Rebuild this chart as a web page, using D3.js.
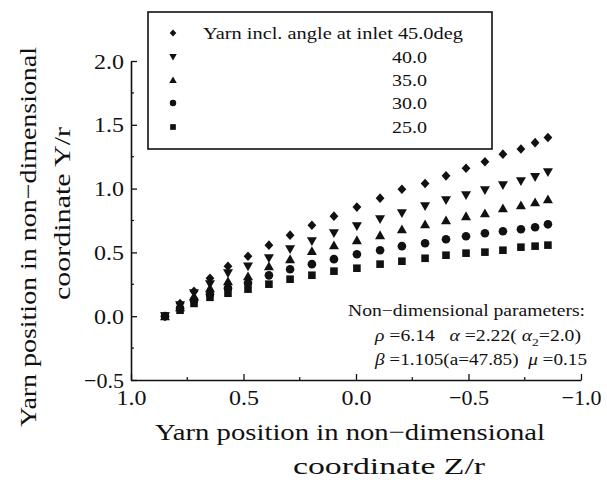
<!DOCTYPE html>
<html>
<head>
<meta charset="utf-8">
<script src="https://cdn.jsdelivr.net/npm/d3@7"></script>
<style>
  body { margin: 0; background: #fff; }
  text { font-family: "Liberation Serif", "DejaVu Serif", serif; fill: #111; white-space: pre; }
</style>
</head>
<body>
<div id="chart"></div>
<script>
// yarn position data
var zPos = [0.849, 0.782, 0.720, 0.649, 0.569, 0.480, 0.387, 0.293, 0.196, 0.098, -0.004,
            -0.107, -0.204, -0.307, -0.400, -0.489, -0.573, -0.653, -0.733, -0.796, -0.853];

var y45 = [0, 0.10, 0.196, 0.298, 0.392, 0.470, 0.557, 0.635, 0.713, 0.784, 0.855,
           0.925, 0.995, 1.040, 1.100, 1.160, 1.210, 1.270, 1.310, 1.360, 1.400];
var y40 = [0, 0.086, 0.180, 0.250, 0.337, 0.390, 0.455, 0.525, 0.588, 0.650, 0.705,
           0.760, 0.807, 0.862, 0.909, 0.948, 0.987, 1.027, 1.058, 1.090, 1.128];
var y35 = [0, 0.070, 0.157, 0.220, 0.274, 0.313, 0.392, 0.447, 0.510, 0.556, 0.596,
           0.635, 0.682, 0.721, 0.752, 0.784, 0.807, 0.846, 0.870, 0.893, 0.917];
var y30 = [0, 0.063, 0.125, 0.172, 0.220, 0.260, 0.320, 0.368, 0.408, 0.447, 0.486,
           0.517, 0.549, 0.572, 0.603, 0.627, 0.650, 0.666, 0.682, 0.697, 0.720];
var y25 = [0, 0.047, 0.100, 0.148, 0.180, 0.212, 0.251, 0.290, 0.321, 0.353, 0.376,
           0.408, 0.431, 0.454, 0.478, 0.494, 0.502, 0.517, 0.541, 0.549, 0.557];

var angles = ["45.0", "40.0", "35.0", "30.0", "25.0"];
var xTicks = [1.0, 0.5, 0.0, -0.5, -1.0];
var yTicks = [-0.5, 0.0, 0.5, 1.0, 1.5, 2.0];

var series = [
  {angle: angles[0], values: y45, shape: "diamond"},
  {angle: angles[1], values: y40, shape: "down"},
  {angle: angles[2], values: y35, shape: "up"},
  {angle: angles[3], values: y30, shape: "circle"},
  {angle: angles[4], values: y25, shape: "square"}
];

var W = 607, H = 485;
var svg = d3.select("#chart").append("svg").attr("width", W).attr("height", H);

var x = d3.scaleLinear().domain([1, -1]).range([131, 581]);
var y = d3.scaleLinear().domain([-0.5, 2]).range([380, 61]);

function fmt(d) { return (d < 0 ? "\u2212" : "") + Math.abs(d).toFixed(1); }

// marker paths, s = scale
function shapePath(shape, s) {
  if (shape === "diamond") return "M0," + (-4.8*s) + "L" + (4.4*s) + ",0L0," + (4.8*s) + "L" + (-4.4*s) + ",0Z";
  if (shape === "down") return "M" + (-5*s) + "," + (-4*s) + "L" + (5*s) + "," + (-4*s) + "L0," + (4.8*s) + "Z";
  if (shape === "up") return "M" + (-5*s) + "," + (4*s) + "L" + (5*s) + "," + (4*s) + "L0," + (-4.8*s) + "Z";
  if (shape === "circle") { var r = 4.3*s; return "M" + (-r) + ",0a" + r + "," + r + " 0 1,0 " + 2*r + ",0a" + r + "," + r + " 0 1,0 " + (-2*r) + ",0Z"; }
  var h = 3.8*s; return "M" + (-h) + "," + (-h) + "H" + h + "V" + h + "H" + (-h) + "Z";
}

// axes
var xAxis = svg.append("g").attr("transform", "translate(0,380)")
  .call(d3.axisBottom(x).tickValues(xTicks).tickSize(-6).tickSizeOuter(0).tickPadding(9).tickFormat(fmt));
var yAxis = svg.append("g").attr("transform", "translate(131,0)")
  .call(d3.axisLeft(y).tickValues(yTicks).tickSize(-6).tickSizeOuter(0).tickPadding(7).tickFormat(fmt));

[xAxis, yAxis].forEach(function(g) {
  g.select(".domain").attr("stroke", "#111").attr("stroke-width", 1.6);
  g.selectAll(".tick line").attr("stroke", "#111").attr("stroke-width", 1.3);
  g.selectAll(".tick text").attr("font-size", 22).attr("font-family", "Liberation Serif").attr("fill", "#111")
    .attr("textLength", d => d < 0 ? 40 : 30).attr("lengthAdjust", "spacingAndGlyphs");
});

// minor ticks
var minorX = d3.range(-0.75, 1, 0.5);
svg.append("g").selectAll("line").data(minorX).join("line")
  .attr("x1", d => x(d)).attr("x2", d => x(d)).attr("y1", 380).attr("y2", 377)
  .attr("stroke", "#111").attr("stroke-width", 1.2);
var minorY = d3.range(-0.25, 2, 0.5);
svg.append("g").selectAll("line").data(minorY).join("line")
  .attr("x1", 131).attr("x2", 134).attr("y1", d => y(d)).attr("y2", d => y(d))
  .attr("stroke", "#111").attr("stroke-width", 1.2);

// data points
series.forEach(function(s) {
  svg.append("g").selectAll("path").data(s.values).join("path")
    .attr("d", shapePath(s.shape, 1))
    .attr("transform", (d, i) => "translate(" + x(zPos[i]) + "," + y(d) + ")")
    .attr("fill", "#111");
});

// legend
svg.append("rect").attr("x", 148).attr("y", 12).attr("width", 344).attr("height", 137)
  .attr("fill", "#fff").attr("stroke", "#111").attr("stroke-width", 1.6);
var legRows = [33, 57, 80, 103, 127];
series.forEach(function(s, i) {
  svg.append("path").attr("d", shapePath(s.shape, 0.75))
    .attr("transform", "translate(173," + legRows[i] + ")").attr("fill", "#111");
  if (i === 0) {
    svg.append("text").attr("x", 203).attr("y", legRows[i] + 6).attr("font-size", 17)
      .attr("textLength", 260).attr("lengthAdjust", "spacingAndGlyphs")
      .text("Yarn incl. angle at inlet " + s.angle + "deg");
  } else {
    svg.append("text").attr("x", 392).attr("y", legRows[i] + 6).attr("font-size", 17)
      .attr("textLength", 35).attr("lengthAdjust", "spacingAndGlyphs")
      .text(s.angle);
  }
});

// parameter note
var note = svg.append("g").attr("font-size", 16);
note.append("text").attr("x", 348).attr("y", 316).attr("textLength", 237).attr("lengthAdjust", "spacingAndGlyphs")
  .text("Non\u2212dimensional parameters:");
var l2 = note.append("text").attr("x", 375).attr("y", 341).attr("textLength", 206).attr("lengthAdjust", "spacingAndGlyphs");
l2.append("tspan").attr("font-style", "italic").text("\u03c1");
l2.append("tspan").text(" =6.14   ");
l2.append("tspan").attr("font-style", "italic").text("\u03b1");
l2.append("tspan").text(" =2.22( ");
l2.append("tspan").attr("font-style", "italic").text("\u03b1");
l2.append("tspan").attr("font-size", 11).attr("dy", 5).text("2");
l2.append("tspan").attr("dy", -5).text("=2.0)");
var l3 = note.append("text").attr("x", 375).attr("y", 365).attr("textLength", 212).attr("lengthAdjust", "spacingAndGlyphs");
l3.append("tspan").attr("font-style", "italic").text("\u03b2");
l3.append("tspan").text(" =1.105(a=47.85)  ");
l3.append("tspan").attr("font-style", "italic").text("\u03bc");
l3.append("tspan").text(" =0.15");

// axis titles
svg.append("text").attr("x", 155).attr("y", 440).attr("font-size", 24)
  .attr("textLength", 390).attr("lengthAdjust", "spacingAndGlyphs")
  .text("Yarn position in non\u2212dimensional");
svg.append("text").attr("x", 293).attr("y", 474).attr("font-size", 24)
  .attr("textLength", 192).attr("lengthAdjust", "spacingAndGlyphs")
  .text("coordinate Z/r");

svg.append("text").attr("transform", "translate(36,427) rotate(-90)").attr("font-size", 24)
  .attr("textLength", 380).attr("lengthAdjust", "spacingAndGlyphs")
  .text("Yarn position in non\u2212dimensional");
svg.append("text").attr("transform", "translate(70,300) rotate(-90)").attr("font-size", 24)
  .attr("textLength", 173).attr("lengthAdjust", "spacingAndGlyphs")
  .text("coordinate Y/r");
</script>
</body>
</html>
